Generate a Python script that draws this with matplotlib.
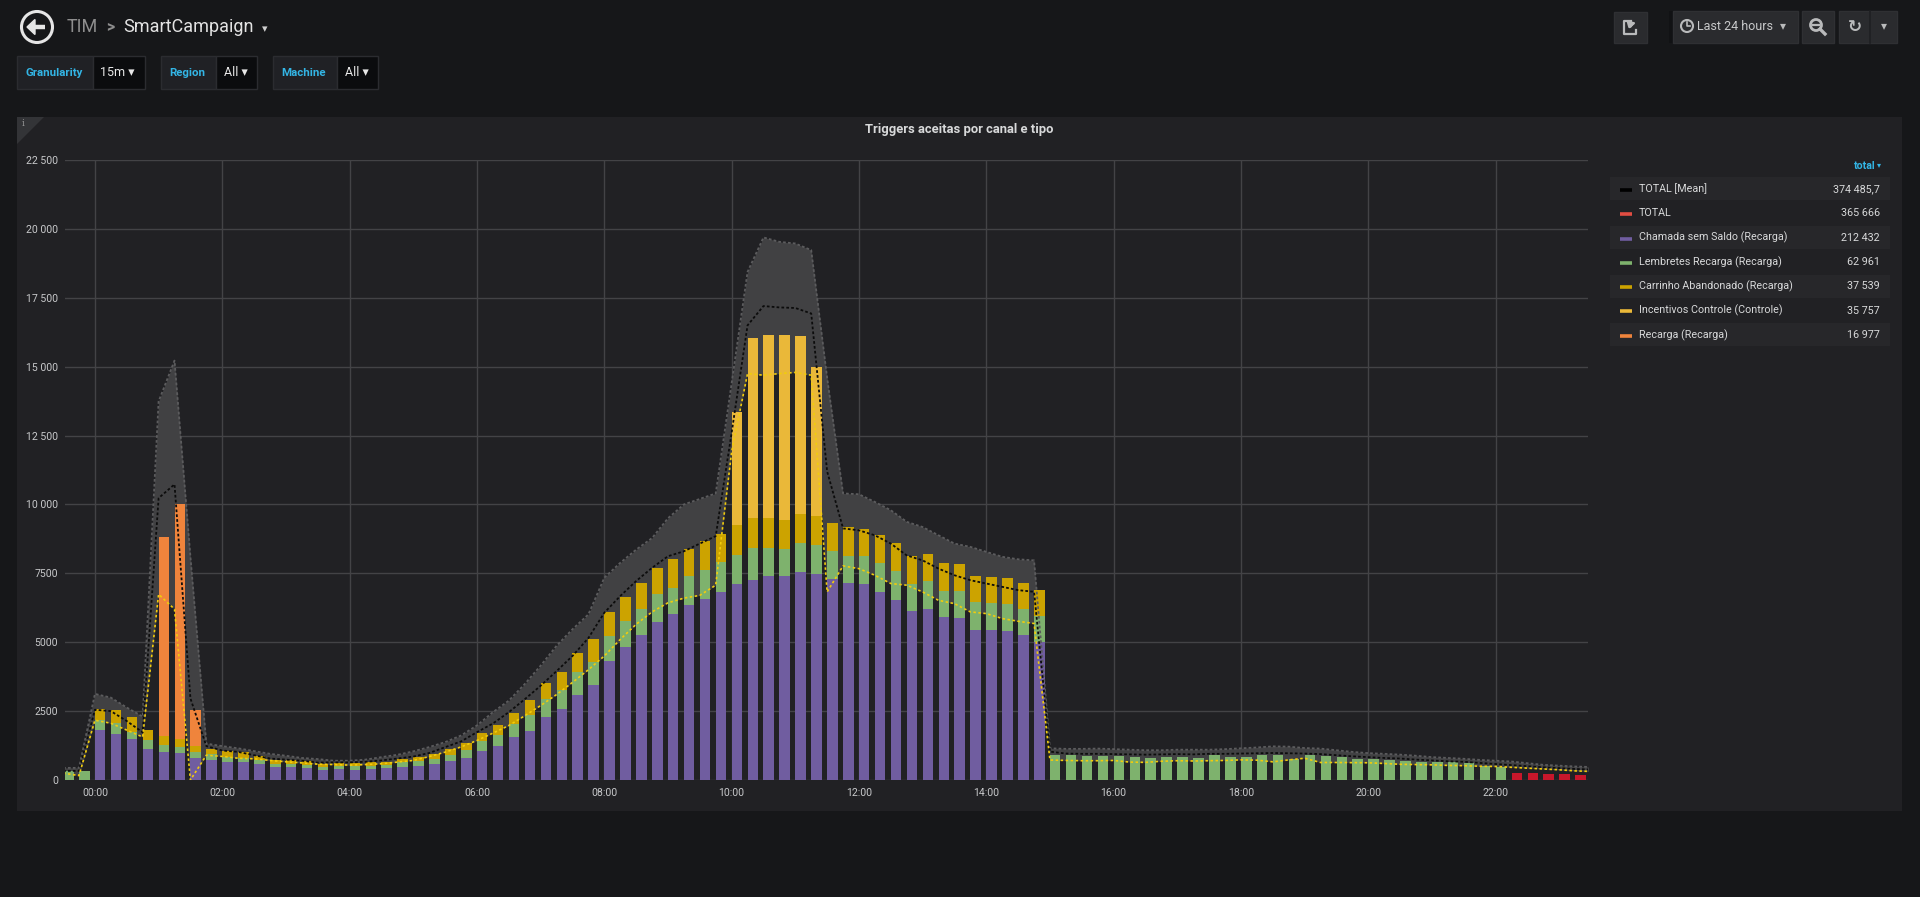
import numpy as np
import matplotlib
matplotlib.use('Agg')
import matplotlib.pyplot as plt
from matplotlib.patches import Rectangle, Circle, Polygon

plt.rcParams['font.family'] = ['Roboto', 'DejaVu Sans']

W, H = 1920, 897

# ---------------- data ----------------
slot_start_h = -0.5      # 23:30 of the previous day, 15-minute slots
slot_step_h = 0.25
n_slots = 96             # bars
n_line_points = 97       # line series carry one more point (23:30)

chamada = [0, 0, 1810, 1680, 1480, 1135, 1020, 990, 790, 740,
           640, 660, 575, 460, 480, 445, 360, 395, 380, 410,
           430, 470, 505, 590, 700, 805, 1070, 1230, 1555, 1785,
           2300, 2590, 3100, 3445, 4325, 4830, 5255, 5725, 6025, 6350,
           6560, 6815, 7115, 7270, 7405, 7405, 7560, 7465, 7310, 7150,
           7105, 6840, 6525, 6135, 6195, 5905, 5885, 5460, 5460, 5400,
           5245, 5015, 0, 0, 0, 0, 0, 0, 0, 0,
           0, 0, 0, 0, 0, 0, 0, 0, 0, 0,
           0, 0, 0, 0, 0, 0, 0, 0, 0, 0,
           0, 0, 0, 0, 0, 0]

lembretes = [330, 330, 380, 380, 280, 315, 250, 210, 210, 200,
             180, 140, 135, 115, 110, 115, 100, 115, 110, 115,
             120, 180, 170, 180, 215, 290, 350, 385, 480, 590,
             640, 665, 805, 845, 890, 930, 950, 1010, 950, 1070,
             1065, 1100, 1040, 1135, 1015, 980, 1050, 1065, 1015, 990,
             1015, 1040, 1065, 980, 1015, 940, 990, 990, 965, 990,
             955, 930, 910, 915, 880, 880, 880, 830, 805, 830,
             830, 805, 915, 840, 840, 890, 915, 770, 900, 855,
             830, 780, 755, 730, 685, 645, 660, 645, 600, 525,
             465, 0, 0, 0, 0, 0]

carrinho = [0, 0, 390, 470, 510, 380, 330, 300, 250, 180,
            220, 200, 160, 165, 130, 115, 130, 115, 135, 115,
            120, 120, 155, 170, 215, 255, 290, 375, 400, 520,
            565, 675, 710, 820, 880, 890, 950, 950, 1050, 980,
            1050, 1015, 1110, 1090, 1090, 1040, 1030, 1050, 1015, 1030,
            980, 1005, 1005, 1025, 990, 1015, 965, 940, 940, 930,
            955, 945, 0, 0, 0, 0, 0, 0, 0, 0,
            0, 0, 0, 0, 0, 0, 0, 0, 0, 0,
            0, 0, 0, 0, 0, 0, 0, 0, 0, 0,
            0, 0, 0, 0, 0, 0]

incentivos_slots = [42, 43, 44, 45, 46, 47]
incentivos_vals = [4075, 6555, 6625, 6720, 6480, 5390]

recarga_slots = [6, 7, 8]
recarga_vals = [7230, 8500, 1280]

total_slots = [91, 92, 93, 94, 95]
total_vals = [245, 245, 205, 205, 170]

band_upper = [440, 440, 3125, 2990, 2630, 2300, 13740, 15220, 8100, 1320,
              1230, 1150, 1050, 950, 880, 800, 760, 700, 700, 740,
              830, 915, 1040, 1195, 1375, 1615, 1980, 2460, 2880, 3480,
              4150, 4870, 5470, 6010, 7340, 7880, 8360, 8780, 9500, 10000,
              10200, 10400, 14400, 18440, 19690, 19530, 19470, 19230, 14600, 10400,
              10370, 10090, 9790, 9370, 9180, 8880, 8580, 8460, 8280, 8100,
              8010, 7970, 1150, 1130, 1130, 1140, 1120, 1100, 1080, 1080,
              1100, 1100, 1100, 1120, 1150, 1180, 1220, 1210, 1160, 1140,
              1080, 1020, 975, 950, 920, 880, 830, 800, 770, 730,
              700, 670, 610, 550, 520, 490, 470]

band_mean = [330, 330, 2550, 2500, 2140, 1730, 10230, 10730, 2960, 1230,
             1070, 1020, 900, 780, 740, 700, 630, 640, 640, 660,
             710, 780, 850, 980, 1190, 1400, 1735, 2050, 2460, 2930,
             3420, 3950, 4500, 5150, 6070, 6675, 7220, 7700, 8120, 8300,
             8580, 8850, 12600, 16500, 17200, 17150, 17130, 16930, 11200, 9130,
             9060, 8880, 8580, 8150, 7970, 7670, 7430, 7250, 7130, 7010,
             6890, 6830, 1030, 960, 950, 950, 940, 930, 920, 930,
             940, 930, 950, 950, 960, 970, 980, 970, 960, 940,
             900, 860, 830, 800, 780, 740, 710, 680, 660, 620,
             580, 540, 500, 460, 430, 400, 380]

band_lower = [250, 160, 2170, 2060, 1810, 1560, 6740, 6200, 0, 900,
              855, 790, 770, 710, 660, 620, 575, 560, 540, 560,
              590, 650, 710, 850, 1010, 1200, 1434, 1700, 1976, 2330,
              2700, 3100, 3540, 4000, 4500, 5100, 5650, 6100, 6430, 6600,
              6700, 7070, 11910, 14750, 14690, 14750, 14790, 14690, 6825, 7770,
              7670, 7430, 7130, 7070, 6825, 6520, 6400, 6100, 6040, 5860,
              5760, 5680, 725, 710, 700, 700, 710, 650, 640, 680,
              700, 690, 700, 710, 730, 720, 660, 730, 790, 635,
              635, 630, 625, 600, 570, 560, 550, 530, 520, 500,
              490, 460, 430, 400, 370, 330, 310]

x_tick_hours = [0, 2, 4, 6, 8, 10, 12, 14, 16, 18, 20, 22]
x_tick_labels = ['00:00', '02:00', '04:00', '06:00', '08:00', '10:00',
                 '12:00', '14:00', '16:00', '18:00', '20:00', '22:00']
y_ticks = [0, 2500, 5000, 7500, 10000, 12500, 15000, 17500, 20000, 22500]
y_tick_labels = ['0', '2500', '5000', '7500', '10 000', '12 500',
                 '15 000', '17 500', '20 000', '22 500']

legend_names = ['TOTAL [Mean]', 'TOTAL', 'Chamada sem Saldo (Recarga)',
                'Lembretes Recarga (Recarga)', 'Carrinho Abandonado (Recarga)',
                'Incentivos Controle (Controle)', 'Recarga (Recarga)']
legend_totals = ['374 485,7', '365 666', '212 432', '62 961', '37 539',
                 '35 757', '16 977']
legend_colors = ['#000000', '#e24d42', '#705da0', '#7eb26d', '#cca300',
                 '#eab839', '#ef843c']

# ---------------- colours ----------------
BODY = '#161719'
PANEL = '#212124'
TXT = '#d8d9da'
CYAN = '#33b5e5'
C_CHAMADA = '#705da0'
C_LEMB = '#7eb26d'
C_CARR = '#cca300'
C_INC = '#eab839'
C_REC = '#ef843c'
C_TOTAL = '#c8172b'

def pt(px):
    return px * 0.72

fig = plt.figure(figsize=(W / 100, H / 100), dpi=100, facecolor=BODY)

# overlay in pixel coordinates
ov = fig.add_axes([0, 0, 1, 1], zorder=0)
ov.set_xlim(0, W)
ov.set_ylim(H, 0)
ov.axis('off')
ov.patch.set_alpha(0)

# ---- header: back button + breadcrumb ----
ov.add_patch(Circle((37, 27), 15.5, fill=False, ec='#e6e6e6', lw=2.2))
ov.plot([31, 45], [27, 27], color='#e6e6e6', lw=3.2, solid_capstyle='butt')
ov.add_patch(Polygon([[27, 27], [35, 19.5], [35, 34.5]], closed=True, color='#e6e6e6'))
ov.text(67, 27, 'TIM', color='#8e8e8e', fontsize=pt(18), va='center', ha='left')
ov.text(106, 27, '>', color='#8e8e8e', fontsize=pt(16), va='center', ha='left', fontweight='bold')
ov.text(123, 27, 'SmartCampaign', color='#e3e3e3', fontsize=pt(18), va='center', ha='left')
ov.text(262, 29, '\u25be', color='#cfcfcf', fontsize=pt(11), va='center', ha='left',
        family=['DejaVu Sans'])

# ---- variable boxes ----
def var_box(x0, xs, x1, label, value):
    ov.add_patch(Rectangle((x0, 56), xs - x0, 33, fc='#202125', ec='#2b2c30', lw=1))
    ov.add_patch(Rectangle((xs, 56), x1 - xs, 33, fc='#0b0c0e', ec='#2b2c30', lw=1))
    ov.text(x0 + 8, 72.5, label, color=CYAN, fontsize=pt(11.5), fontweight='bold',
            va='center', ha='left')
    ov.text(xs + 8, 73, value + ' \u25be', color='#e8e8e8', fontsize=pt(12.5),
            va='center', ha='left', family=['Roboto', 'DejaVu Sans'])

var_box(17, 92.5, 145, 'Granularity', '15m')
var_box(161, 216, 257, 'Region', 'All')
var_box(273, 337, 378, 'Machine', 'All')

# ---- header right buttons ----
BTN = '#2a2b2e'
ICON = '#b9babb'
ov.add_patch(Rectangle((1614, 12), 33, 31, fc=BTN, ec='#2f3033', lw=1))
ov.add_patch(Rectangle((1669, 11), 4, 32, fc='#111214', lw=0))
ov.add_patch(Rectangle((1673, 11), 125, 32, fc=BTN, ec='#2f3033', lw=1))
ov.add_patch(Rectangle((1802, 11), 32, 32, fc=BTN, ec='#2f3033', lw=1))
ov.add_patch(Rectangle((1839, 11), 58, 32, fc=BTN, ec='#2f3033', lw=1))
ov.plot([1870, 1870], [11, 43], color='#1e1f22', lw=1.2)
# share icon (box with outgoing arrow)
ov.plot([1631, 1624, 1624, 1636, 1636], [21, 21, 34, 34, 30], color=ICON, lw=1.6)
ov.annotate('', xy=(1639, 22), xytext=(1629, 29),
            arrowprops=dict(arrowstyle='-|>', color=ICON, lw=1.8, mutation_scale=9,
                            connectionstyle='arc3,rad=-0.3'))
# clock icon
ov.add_patch(Circle((1687, 26), 6, fill=False, ec=ICON, lw=1.5))
ov.plot([1687, 1687, 1690], [22, 26.5, 26.5], color=ICON, lw=1.2)
ov.text(1697, 26.5, 'Last 24 hours', color='#c8c9ca', fontsize=pt(12.5), va='center', ha='left')
ov.text(1780, 26, '\u25be', color=ICON, fontsize=pt(12), va='center', ha='left',
        family=['DejaVu Sans'])
# zoom out icon
ov.add_patch(Circle((1816, 25), 5.5, fill=False, ec=ICON, lw=2))
ov.plot([1813, 1819], [25, 25], color=ICON, lw=1.6)
ov.plot([1820, 1825], [29, 34], color=ICON, lw=2.4)
# refresh icon
ov.text(1855, 27, '\u21bb', color=ICON, fontsize=pt(17), va='center', ha='center',
        fontweight='bold', family=['DejaVu Sans'])
ov.text(1884, 26, '\u25be', color=ICON, fontsize=pt(12), va='center', ha='center',
        family=['DejaVu Sans'])

# ---- panel ----
ov.add_patch(Rectangle((17, 117), 1885, 694, fc=PANEL, lw=0))
ov.add_patch(Polygon([[17, 117], [44, 117], [17, 144]], closed=True, fc='#333437', lw=0))
ov.text(23.5, 123, 'i', color='#9a9a9a', fontsize=pt(9), va='center', ha='center',
        family=['DejaVu Serif'])
ov.text(959, 130, 'Triggers aceitas por canal e tipo', color=TXT, fontsize=pt(13),
        fontweight='bold', va='center', ha='center')

# ---- legend table ----
ov.text(1876, 166, 'total', color=CYAN, fontsize=pt(10.5), fontweight='bold',
        va='center', ha='right')
ov.text(1881, 165, '\u25be', color=CYAN, fontsize=pt(8), va='center', ha='right',
        family=['DejaVu Sans'])
row_y0 = 189.0
row_dy = 24.3
for i, (name, val, col) in enumerate(zip(legend_names, legend_totals, legend_colors)):
    yc = row_y0 + i * row_dy
    if i % 2 == 0:
        ov.add_patch(Rectangle((1610, yc - 11.5), 280, 23, fc='#27272a', lw=0))
    ov.plot([1620, 1632], [yc + 1, yc + 1], color=col, lw=2.6, solid_capstyle='butt')
    ov.text(1639, yc, name, color=TXT, fontsize=pt(10.8), va='center', ha='left')
    ov.text(1880, yc, val, color=TXT, fontsize=pt(10.8), va='center', ha='right')

# ---------------- chart ----------------
L, R, T, B = 65, 1588, 160, 780
ax = fig.add_axes([L / W, 1 - B / H, (R - L) / W, (B - T) / H], zorder=1)
ax.patch.set_alpha(0)

t = slot_start_h + slot_step_h * np.arange(n_slots)
t_lines = slot_start_h + slot_step_h * np.arange(n_line_points)
bw = 0.165

incentivos = np.zeros(n_slots)
incentivos[incentivos_slots] = incentivos_vals
recarga = np.zeros(n_slots)
recarga[recarga_slots] = recarga_vals
total = np.zeros(n_slots)
total[total_slots] = total_vals

# band (min..max around the mean) behind the bars
ax.fill_between(t_lines, band_lower, band_upper, color='#414143', lw=0, zorder=1)

bottom = np.zeros(n_slots)
for vals, col in [(chamada, C_CHAMADA), (lembretes, C_LEMB), (carrinho, C_CARR),
                  (incentivos, C_INC), (recarga, C_REC), (total, C_TOTAL)]:
    vals = np.asarray(vals, dtype=float)
    mask = vals > 0
    ax.bar(t[mask], vals[mask], width=bw, bottom=bottom[mask], align='edge',
           color=col, lw=0, zorder=2)
    bottom = bottom + vals

ax.plot(t_lines, band_upper, color='#5c5c5e', lw=1.3, ls=(0, (1.5, 1.2)), zorder=3)
ax.plot(t_lines, band_mean, color='#0c0c0c', lw=1.3, ls=(0, (1.5, 1.2)), zorder=4)
ax.plot(t_lines, band_lower, color='#f2cc0c', lw=1.2, ls=(0, (1.5, 1.5)), zorder=4)

ax.set_xlim(-0.47, 23.45)
ax.set_ylim(0, 22500)
ax.set_xticks(x_tick_hours)
ax.set_xticklabels(x_tick_labels)
ax.set_yticks(y_ticks)
ax.set_yticklabels(y_tick_labels)
ax.grid(True, color='#434346', lw=1.0, zorder=0)
ax.set_axisbelow(True)
for s in ax.spines.values():
    s.set_visible(False)
ax.tick_params(axis='both', length=0, colors='#c7c8ca', labelsize=pt(10.5))
ax.tick_params(axis='y', pad=pt(7))
ax.tick_params(axis='x', pad=pt(8))

fig.savefig('out.png', dpi=100, facecolor=BODY)
